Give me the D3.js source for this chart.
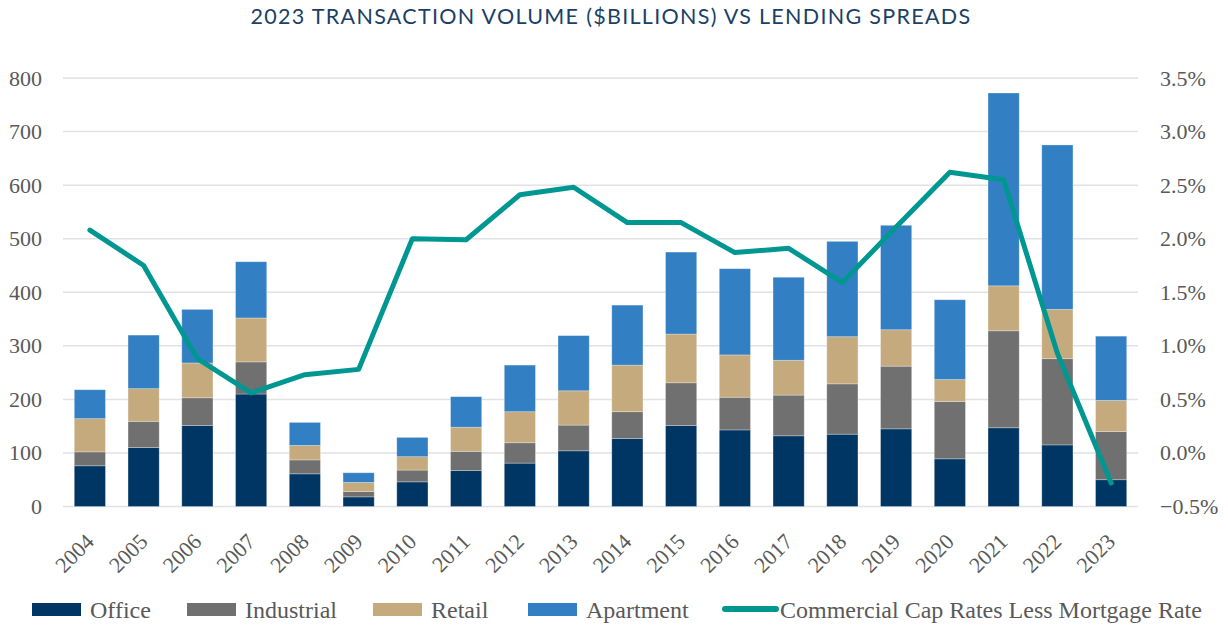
<!DOCTYPE html>
<html>
<head>
<meta charset="utf-8">
<script src="https://cdn.jsdelivr.net/npm/d3@7"></script>
<style>
  body { margin: 0; background: #fff; }
  svg { display: block; }
  .axis text, .legend text { font-family: "Liberation Serif", "DejaVu Serif", serif; fill: #595959; }
</style>
</head>
<body>
<div id="chart"></div>
<script>
// values ($ billions, % spread)
const years = ['2004','2005','2006','2007','2008','2009','2010','2011','2012','2013',
               '2014','2015','2016','2017','2018','2019','2020','2021','2022','2023'];
const office     = [76, 110, 151, 210, 61, 18, 46, 67, 81, 104, 127, 151, 143, 132, 135, 145, 89, 147, 115, 50];
const industrial = [26, 49, 52, 60, 26, 10, 22, 36, 38, 48, 50, 80, 61, 76, 94, 117, 107, 181, 161, 90];
const retail     = [62, 61, 65, 82, 27, 17, 25, 45, 58, 64, 87, 91, 79, 65, 88, 68, 41, 84, 92, 58];
const apartment  = [54, 100, 100, 105, 43, 18, 36, 57, 87, 103, 112, 153, 161, 155, 178, 195, 149, 360, 307, 120];
const spread     = [2.08, 1.75, 0.88, 0.56, 0.73, 0.78, 2.00, 1.99, 2.41, 2.48,
                    2.15, 2.15, 1.87, 1.91, 1.59, 2.11, 2.62, 2.55, 0.93, -0.28];
const leftTicks  = [0, 100, 200, 300, 400, 500, 600, 700, 800];
const rightTicks = [-0.5, 0, 0.5, 1, 1.5, 2, 2.5, 3, 3.5];

const seriesNames = ['Office', 'Industrial', 'Retail', 'Apartment'];
const lineName = 'Commercial Cap Rates Less Mortgage Rate';
const colors = { Office: '#003663', Industrial: '#707070', Retail: '#c5aa7e', Apartment: '#337fc3' };
const lineColor = '#009792';

const width = 1228, height = 626;
const plot = { left: 63, right: 1138, top: 78, bottom: 506.5 };
const labelFont = '"Liberation Serif", "DejaVu Serif", serif';

const svg = d3.select('#chart').append('svg')
    .attr('width', width)
    .attr('height', height);

const x = d3.scaleBand()
    .domain(years)
    .range([plot.left, plot.right])
    .paddingInner(0.42)
    .paddingOuter(0.21);

const yL = d3.scaleLinear().domain([0, 800]).range([plot.bottom, plot.top]);
const yR = d3.scaleLinear().domain([-0.5, 3.5]).range([plot.bottom, plot.top]);

// title
svg.append('text')
    .attr('x', 611)
    .attr('y', 24)
    .attr('text-anchor', 'middle')
    .style('font-family', 'Lato, "Open Sans", sans-serif')
    .style('font-size', '21.5px')
    .style('letter-spacing', '1.3px')
    .style('fill', '#1b3f66')
    .text('2023 TRANSACTION VOLUME ($BILLIONS) VS LENDING SPREADS');

// gridlines
svg.append('g')
    .selectAll('line')
    .data(leftTicks)
    .enter()
    .append('line')
    .attr('x1', plot.left)
    .attr('x2', plot.right)
    .attr('y1', d => yL(d))
    .attr('y2', d => yL(d))
    .attr('stroke', '#e1e1e6')
    .attr('stroke-width', 1.5);

function styleAxis(g) {
    g.attr('font-family', labelFont).attr('font-size', 22);
    g.select('.domain').remove();
    g.selectAll('text')
        .style('font-family', labelFont)
        .style('font-size', '22px')
        .style('fill', '#595959');
}

// left axis
svg.append('g')
    .attr('class', 'axis')
    .attr('transform', `translate(${plot.left - 21},0)`)
    .call(d3.axisLeft(yL).tickValues(leftTicks).tickSize(0).tickPadding(0))
    .call(styleAxis);

// right axis
svg.append('g')
    .attr('class', 'axis')
    .attr('transform', `translate(${plot.right + 22},0)`)
    .call(d3.axisRight(yR).tickValues(rightTicks).tickSize(0).tickPadding(0)
        .tickFormat(d => d3.format('.1f')(d) + '%'))
    .call(styleAxis);

// bottom axis, rotated labels
svg.append('g')
    .attr('class', 'axis')
    .attr('transform', `translate(0,${plot.bottom})`)
    .call(d3.axisBottom(x).tickSize(0).tickPadding(0))
    .call(styleAxis)
    .selectAll('text')
    .attr('transform', 'translate(0,31) rotate(-45)')
    .attr('dy', '0.35em')
    .style('text-anchor', 'end');

// stacked bars
const rows = years.map((y, i) => ({
    year: y,
    Office: office[i],
    Industrial: industrial[i],
    Retail: retail[i],
    Apartment: apartment[i]
}));
const stacked = d3.stack().keys(seriesNames)(rows);

svg.append('g')
    .selectAll('g')
    .data(stacked)
    .enter()
    .append('g')
    .attr('fill', d => colors[d.key])
    .selectAll('rect')
    .data(d => d)
    .enter()
    .append('rect')
    .attr('x', d => x(d.data.year))
    .attr('y', d => yL(d[1]))
    .attr('width', x.bandwidth())
    .attr('height', d => yL(d[0]) - yL(d[1]))
    .attr('stroke', '#ffffff')
    .attr('stroke-opacity', 0.35)
    .attr('stroke-width', 0.8);

// spread line
const line = d3.line()
    .x((d, i) => x(years[i]) + x.bandwidth() / 2)
    .y(d => yR(d));

svg.append('path')
    .datum(spread)
    .attr('fill', 'none')
    .attr('stroke', lineColor)
    .attr('stroke-width', 5)
    .attr('stroke-linejoin', 'round')
    .attr('stroke-linecap', 'round')
    .attr('d', line);

// legend
const legendY = 609;
const legendItems = [
    { name: 'Office', x: 32, type: 'rect' },
    { name: 'Industrial', x: 187, type: 'rect' },
    { name: 'Retail', x: 373, type: 'rect' },
    { name: 'Apartment', x: 528, type: 'rect' },
    { name: lineName, x: 722, type: 'line' }
];
const legend = svg.append('g').attr('class', 'legend');
legendItems.forEach(item => {
    if (item.type === 'rect') {
        legend.append('rect')
            .attr('x', item.x)
            .attr('y', legendY - 6)
            .attr('width', 49)
            .attr('height', 13)
            .attr('fill', colors[item.name]);
    } else {
        legend.append('line')
            .attr('x1', item.x + 3)
            .attr('x2', item.x + 54)
            .attr('y1', legendY)
            .attr('y2', legendY)
            .attr('stroke', lineColor)
            .attr('stroke-width', 6)
            .attr('stroke-linecap', 'round');
    }
    legend.append('text')
        .attr('x', item.x + 58)
        .attr('y', legendY + 1)
        .attr('dy', '0.35em')
        .style('font-family', labelFont)
        .style('font-size', '24px')
        .style('fill', '#595959')
        .text(item.name);
});
</script>
</body>
</html>
